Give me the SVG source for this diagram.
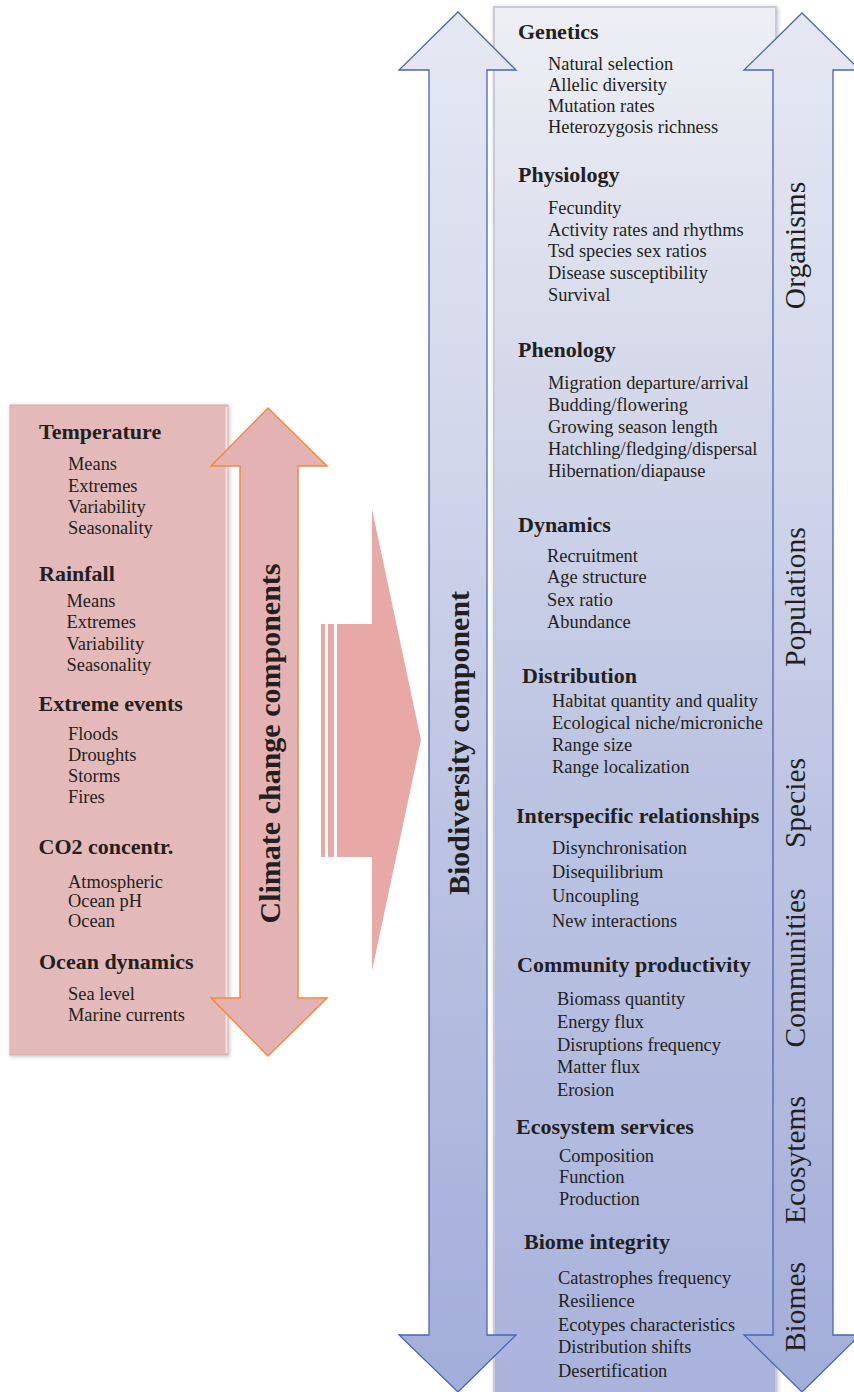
<svg xmlns="http://www.w3.org/2000/svg" width="854" height="1392" viewBox="0 0 854 1392">
<defs>
<linearGradient id="boxGrad" gradientUnits="userSpaceOnUse" x1="0" y1="0" x2="0" y2="1392">
<stop offset="0" stop-color="#eef0f5"/>
<stop offset="0.25" stop-color="#d6daea"/>
<stop offset="0.55" stop-color="#bcc4e2"/>
<stop offset="1" stop-color="#a9b3dc"/>
</linearGradient>
<linearGradient id="arrowGrad" gradientUnits="userSpaceOnUse" x1="0" y1="0" x2="0" y2="1392">
<stop offset="0" stop-color="#e6e9f3"/>
<stop offset="0.3" stop-color="#d3d8eb"/>
<stop offset="0.6" stop-color="#bcc3e2"/>
<stop offset="1" stop-color="#a2add9"/>
</linearGradient>
<filter id="shadow" x="-10%" y="-5%" width="120%" height="110%">
<feGaussianBlur in="SourceAlpha" stdDeviation="2"/>
<feOffset dx="1" dy="1" result="b"/>
<feFlood flood-color="#000" flood-opacity="0.25"/>
<feComposite in2="b" operator="in"/>
<feMerge><feMergeNode/><feMergeNode in="SourceGraphic"/></feMerge>
</filter>
</defs>
<style>
text{font-family:"Liberation Serif","Times New Roman",serif;fill:#231f20}
.h{font-size:22px;font-weight:bold}
.i{font-size:18.4px}
.big{font-size:30px;font-weight:bold}
.lvl{font-size:29.5px}
.blue{fill:url(#arrowGrad);stroke:#4866b6;stroke-width:1.3}
.pinkarrow{fill:#e4b2b2;stroke:#f28a3c;stroke-width:1.5}
</style>
<rect width="854" height="1392" fill="#ffffff"/>

<g id="climate-box">
<rect x="10" y="405" width="218" height="650" fill="#e4b9b9" stroke="#d9a9ab" stroke-width="1" filter="url(#shadow)"/>
<line x1="226.5" y1="407" x2="226.5" y2="1053" stroke="#f6e4e4" stroke-width="2"/>
<text class="h" x="39" y="439">Temperature</text>
<text class="i" x="68" y="470">Means</text>
<text class="i" x="68" y="491.5">Extremes</text>
<text class="i" x="68" y="512.5">Variability</text>
<text class="i" x="68" y="534">Seasonality</text>
<text class="h" x="39" y="580.5">Rainfall</text>
<text class="i" x="66.5" y="607">Means</text>
<text class="i" x="66.5" y="628">Extremes</text>
<text class="i" x="66.5" y="649.5">Variability</text>
<text class="i" x="66.5" y="670.5">Seasonality</text>
<text class="h" x="38.5" y="710.5">Extreme events</text>
<text class="i" x="68" y="740">Floods</text>
<text class="i" x="68" y="760.5">Droughts</text>
<text class="i" x="68" y="781.5">Storms</text>
<text class="i" x="68" y="802.5">Fires</text>
<text class="h" x="38.5" y="854">CO2 concentr.</text>
<text class="i" x="68" y="888">Atmospheric</text>
<text class="i" x="68" y="907">Ocean pH</text>
<text class="i" x="68" y="926.5">Ocean</text>
<text class="h" x="39" y="969">Ocean dynamics</text>
<text class="i" x="68" y="1000">Sea level</text>
<text class="i" x="68" y="1021">Marine currents</text>
</g>

<g id="climate-arrow">
<polygon class="pinkarrow" points="268,408 327,466 298,466 298,998 327,998 268,1056 211,998 240,998 240,466 211,466"/>
<text class="big" transform="translate(280,743.5) rotate(-90)" text-anchor="middle">Climate change components</text>
</g>

<g id="connectors">
<rect x="321" y="624" width="4" height="233" fill="#e8a8a6"/>
<rect x="328" y="624" width="6" height="233" fill="#e8a8a6"/>
<polygon points="337,624 372,624 372,509 421,740 372,971 372,857 337,857" fill="#e8a8a6"/>
</g>

<g id="biodiversity-box">
<rect x="494" y="7" width="282" height="1392" fill="url(#boxGrad)" stroke="#c9ccd6" stroke-width="2" filter="url(#shadow)"/>
<text class="h" x="518" y="39">Genetics</text>
<text class="i" x="548" y="70">Natural selection</text>
<text class="i" x="548" y="91">Allelic diversity</text>
<text class="i" x="548" y="112">Mutation rates</text>
<text class="i" x="548" y="133">Heterozygosis richness</text>
<text class="h" x="518" y="182">Physiology</text>
<text class="i" x="548" y="214">Fecundity</text>
<text class="i" x="548" y="235.5">Activity rates and rhythms</text>
<text class="i" x="548" y="257">Tsd species sex ratios</text>
<text class="i" x="548" y="279">Disease susceptibility</text>
<text class="i" x="548" y="300.5">Survival</text>
<text class="h" x="518" y="357">Phenology</text>
<text class="i" x="548" y="389">Migration departure/arrival</text>
<text class="i" x="548" y="410.5">Budding/flowering</text>
<text class="i" x="548" y="433">Growing season length</text>
<text class="i" x="548" y="455">Hatchling/fledging/dispersal</text>
<text class="i" x="548" y="477">Hibernation/diapause</text>
<text class="h" x="518" y="531.5">Dynamics</text>
<text class="i" x="547" y="561.5">Recruitment</text>
<text class="i" x="547" y="583">Age structure</text>
<text class="i" x="547" y="605.5">Sex ratio</text>
<text class="i" x="547" y="628">Abundance</text>
<text class="h" x="522" y="683">Distribution</text>
<text class="i" x="552" y="707">Habitat quantity and quality</text>
<text class="i" x="552" y="729">Ecological niche/microniche</text>
<text class="i" x="552" y="750.5">Range size</text>
<text class="i" x="552" y="772.5">Range localization</text>
<text class="h" x="516" y="822.5">Interspecific relationships</text>
<text class="i" x="552" y="854">Disynchronisation</text>
<text class="i" x="552" y="878">Disequilibrium</text>
<text class="i" x="552" y="901.5">Uncoupling</text>
<text class="i" x="552" y="926.5">New interactions</text>
<text class="h" x="517" y="971.5">Community productivity</text>
<text class="i" x="557" y="1005">Biomass quantity</text>
<text class="i" x="557" y="1028">Energy flux</text>
<text class="i" x="557" y="1050.5">Disruptions frequency</text>
<text class="i" x="557" y="1073">Matter flux</text>
<text class="i" x="557" y="1095.5">Erosion</text>
<text class="h" x="516" y="1134">Ecosystem services</text>
<text class="i" x="559" y="1161.5">Composition</text>
<text class="i" x="559" y="1182.5">Function</text>
<text class="i" x="559" y="1205">Production</text>
<text class="h" x="524" y="1249">Biome integrity</text>
<text class="i" x="558" y="1284">Catastrophes frequency</text>
<text class="i" x="558" y="1306.5">Resilience</text>
<text class="i" x="558" y="1330.5">Ecotypes characteristics</text>
<text class="i" x="558" y="1353">Distribution shifts</text>
<text class="i" x="558" y="1376.5">Desertification</text>
</g>

<g id="left-scale-arrow">
<polygon class="blue" points="458,12 516,70 487,70 487,1335 516,1335 458,1392 399,1335 429,1335 429,70 399,70"/>
<text class="big" transform="translate(469,743) rotate(-90)" text-anchor="middle">Biodiversity component</text>
</g>

<g id="right-scale-arrow">
<polygon class="blue" points="802,13 860,70 833,70 833,1335 860,1335 802,1392 744,1335 773,1335 773,70 744,70"/>
<text class="lvl" transform="translate(805,245.5) rotate(-90)" text-anchor="middle">Organisms</text>
<text class="lvl" transform="translate(805,597) rotate(-90)" text-anchor="middle">Populations</text>
<text class="lvl" transform="translate(805,803) rotate(-90)" text-anchor="middle">Species</text>
<text class="lvl" transform="translate(805,968) rotate(-90)" text-anchor="middle">Communities</text>
<text class="lvl" transform="translate(805,1160) rotate(-90)" text-anchor="middle">Ecosytems</text>
<text class="lvl" transform="translate(805,1307) rotate(-90)" text-anchor="middle">Biomes</text>
</g>
</svg>
